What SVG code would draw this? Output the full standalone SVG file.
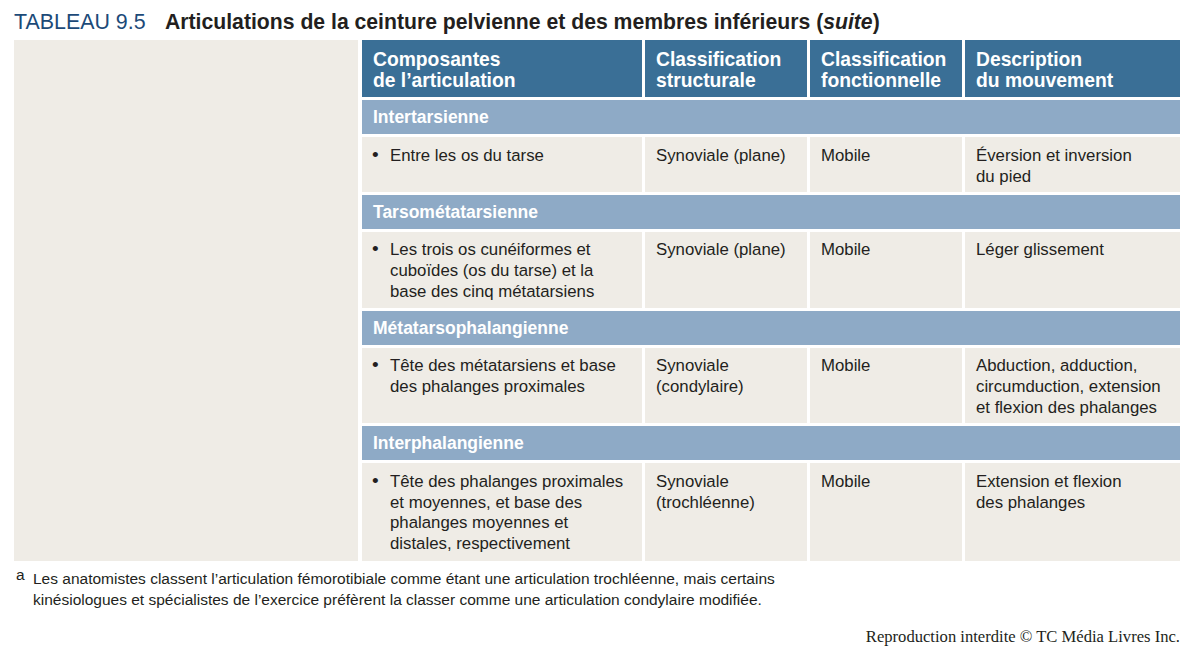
<svg xmlns="http://www.w3.org/2000/svg" width="1196" height="663" viewBox="0 0 1196 663">
<style>
.hd{fill:#3a6f96}
.sb{fill:#8eaac6}
.cl{fill:#efece6}
.ht{font-family:"Liberation Sans",Arial,sans-serif;font-weight:bold;font-size:19.3px;fill:#ffffff}
.st{font-family:"Liberation Sans",Arial,sans-serif;font-weight:bold;font-size:17.5px;fill:#ffffff}
.bt{font-family:"Liberation Sans",Arial,sans-serif;font-size:16.8px;fill:#231f20}
.bu{font-family:"Liberation Sans",Arial,sans-serif;font-size:19px;fill:#231f20}
.fn{font-family:"Liberation Sans",Arial,sans-serif;font-size:15.5px;fill:#231f20}
</style>
<rect width="1196" height="663" fill="#ffffff"/>
<g id="title">
<text x="14" y="29" font-family="'Liberation Sans',Arial,sans-serif" font-size="21.4" fill="#1c4a78">TABLEAU 9.5</text>
<text x="165" y="29" font-family="'Liberation Sans',Arial,sans-serif" font-size="21.2" font-weight="bold" fill="#231f20">Articulations de la ceinture pelvienne et des membres inférieurs (<tspan font-style="italic">suite</tspan>)</text>
</g>
<g id="left-panel"><rect x="14" y="40" width="344" height="521" class="cl"/></g>
<g id="header">
<rect x="362" y="40" width="280" height="57" class="hd"/>
<rect x="645" y="40" width="162" height="57" class="hd"/>
<rect x="810" y="40" width="152" height="57" class="hd"/>
<rect x="965" y="40" width="215" height="57" class="hd"/>
<text class="ht" x="373" y="66">Composantes</text>
<text class="ht" x="373" y="87">de l’articulation</text>
<text class="ht" x="656" y="66">Classification</text>
<text class="ht" x="656" y="87">structurale</text>
<text class="ht" x="821" y="66">Classification</text>
<text class="ht" x="821" y="87">fonctionnelle</text>
<text class="ht" x="976" y="66">Description</text>
<text class="ht" x="976" y="87">du mouvement</text>
</g>
<g id="intertarsienne">
<rect x="362" y="100" width="818" height="34" class="sb"/>
<text class="st" x="373" y="123">Intertarsienne</text>
<rect x="362" y="137" width="280" height="55" class="cl"/>
<rect x="645" y="137" width="162" height="55" class="cl"/>
<rect x="810" y="137" width="152" height="55" class="cl"/>
<rect x="965" y="137" width="215" height="55" class="cl"/>
<text class="bu" x="372" y="161">•</text>
<text class="bt" x="390" y="161">Entre les os du tarse</text>
<text class="bt" x="656" y="161">Synoviale (plane)</text>
<text class="bt" x="821" y="161">Mobile</text>
<text class="bt" x="976" y="161">Éversion et inversion</text>
<text class="bt" x="976" y="182">du pied</text>
</g>
<g id="tarsometatarsienne">
<rect x="362" y="195" width="818" height="34" class="sb"/>
<text class="st" x="373" y="218">Tarsométatarsienne</text>
<rect x="362" y="232" width="280" height="76" class="cl"/>
<rect x="645" y="232" width="162" height="76" class="cl"/>
<rect x="810" y="232" width="152" height="76" class="cl"/>
<rect x="965" y="232" width="215" height="76" class="cl"/>
<text class="bu" x="372" y="255">•</text>
<text class="bt" x="390" y="255">Les trois os cunéiformes et</text>
<text class="bt" x="390" y="276">cuboïdes (os du tarse) et la</text>
<text class="bt" x="390" y="297">base des cinq métatarsiens</text>
<text class="bt" x="656" y="255">Synoviale (plane)</text>
<text class="bt" x="821" y="255">Mobile</text>
<text class="bt" x="976" y="255">Léger glissement</text>
</g>
<g id="metatarsophalangienne">
<rect x="362" y="311" width="818" height="34" class="sb"/>
<text class="st" x="373" y="334">Métatarsophalangienne</text>
<rect x="362" y="348" width="280" height="75" class="cl"/>
<rect x="645" y="348" width="162" height="75" class="cl"/>
<rect x="810" y="348" width="152" height="75" class="cl"/>
<rect x="965" y="348" width="215" height="75" class="cl"/>
<text class="bu" x="372" y="371">•</text>
<text class="bt" x="390" y="371">Tête des métatarsiens et base</text>
<text class="bt" x="390" y="392">des phalanges proximales</text>
<text class="bt" x="656" y="371">Synoviale</text>
<text class="bt" x="656" y="392">(condylaire)</text>
<text class="bt" x="821" y="371">Mobile</text>
<text class="bt" x="976" y="371">Abduction, adduction,</text>
<text class="bt" x="976" y="392">circumduction, extension</text>
<text class="bt" x="976" y="413">et flexion des phalanges</text>
</g>
<g id="interphalangienne">
<rect x="362" y="426" width="818" height="34" class="sb"/>
<text class="st" x="373" y="449">Interphalangienne</text>
<rect x="362" y="463" width="280" height="98" class="cl"/>
<rect x="645" y="463" width="162" height="98" class="cl"/>
<rect x="810" y="463" width="152" height="98" class="cl"/>
<rect x="965" y="463" width="215" height="98" class="cl"/>
<text class="bu" x="372" y="487">•</text>
<text class="bt" x="390" y="487">Tête des phalanges proximales</text>
<text class="bt" x="390" y="508">et moyennes, et base des</text>
<text class="bt" x="390" y="528">phalanges moyennes et</text>
<text class="bt" x="390" y="549">distales, respectivement</text>
<text class="bt" x="656" y="487">Synoviale</text>
<text class="bt" x="656" y="508">(trochléenne)</text>
<text class="bt" x="821" y="487">Mobile</text>
<text class="bt" x="976" y="487">Extension et flexion</text>
<text class="bt" x="976" y="508">des phalanges</text>
</g>
<g id="footnote">
<text class="fn" x="16" y="580" font-size="9">a</text>
<text class="fn" x="33" y="584">Les anatomistes classent l’articulation fémorotibiale comme étant une articulation trochléenne, mais certains</text>
<text class="fn" x="33" y="605">kinésiologues et spécialistes de l’exercice préfèrent la classer comme une articulation condylaire modifiée.</text>
</g>
<g id="copyright">
<text x="1180" y="642" text-anchor="end" font-family="'Liberation Serif','Times New Roman',serif" font-size="16.6" fill="#231f20">Reproduction interdite © TC Média Livres Inc.</text>
</g>
</svg>
